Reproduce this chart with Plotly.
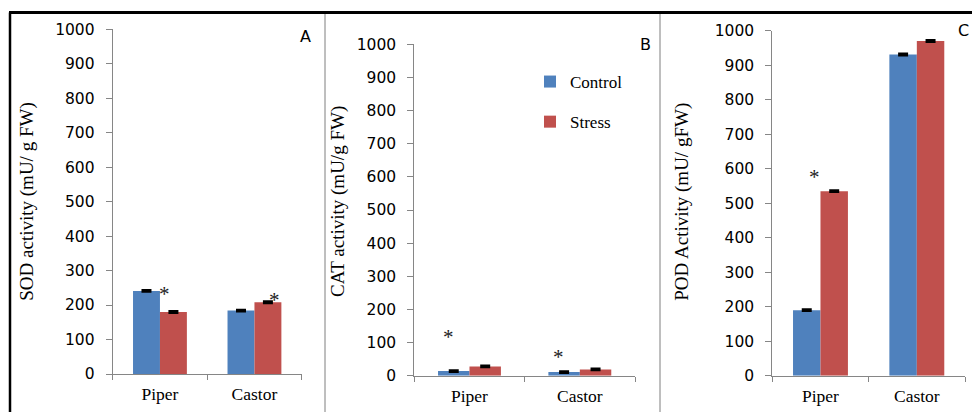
import plotly.graph_objects as go

# ---- data ----
categories = ["Piper", "Castor"]
series_names = ["Control", "Stress"]

sod_control = [241, 184]
sod_stress = [180, 208]
cat_control = [14, 11]
cat_stress = [28, 19]
pod_control = [190, 931]
pod_stress = [535, 970]

sod_err_control = [2, 2]
sod_err_stress = [2, 2]
cat_err_control = [2, 2]
cat_err_stress = [2, 2]
pod_err_control = [2, 2]
pod_err_stress = [2, 2]

y_titles = ["SOD activity (mU/ g FW)", "CAT activity (mU/g FW)", "POD Activity (mU/ gFW)"]
panel_letters = ["A", "B", "C"]
y_ticks = [0, 100, 200, 300, 400, 500, 600, 700, 800, 900, 1000]

# significance marks: (panel index, category, x offset in category units, y value)
asterisks = [
    (0, 0, 0.05, 241), (0, 1, 0.21, 224),
    (1, 0, -0.19, 125), (1, 1, -0.19, 65),
    (2, 0, -0.06, 586), (2, 1, 0.15, 1016),
]

BLUE = "#4F81BD"
RED = "#C0504D"
AXIS = "#868686"
W, H = 972, 412

panels = [
    (sod_control, sod_stress, sod_err_control, sod_err_stress),
    (cat_control, cat_stress, cat_err_control, cat_err_stress),
    (pod_control, pod_stress, pod_err_control, pod_err_stress),
]

# pixel geometry of the three plot areas: (x_left, x_right, y_zero, y_top)
geom = [
    (112.7, 301.7, 374.0, 29.3),
    (414.3, 635.0, 375.7, 44.3),
    (772.3, 965.0, 375.7, 30.7),
]
title_x = [26.7, 338, 681.7]
letter_pos = [(305, 37), (645, 45), (963, 31)]

fig = go.Figure()

for i, (c_vals, s_vals, c_err, s_err) in enumerate(panels):
    suffix = "" if i == 0 else str(i + 1)
    for name, vals, err, col in ((series_names[0], c_vals, c_err, BLUE),
                                 (series_names[1], s_vals, s_err, RED)):
        fig.add_trace(go.Bar(
            x=categories, y=vals, name=name, marker=dict(color=col, line=dict(width=0)),
            error_y=dict(type="data", array=err, visible=True, color="black",
                         thickness=2.5, width=5),
            xaxis="x" + suffix, yaxis="y" + suffix,
            legendgroup=name, showlegend=(i == 1),
        ))
    xl, xr, y0, yt = geom[i]
    fig.layout["xaxis" + suffix] = dict(
        domain=[xl / W, xr / W], anchor="y" + suffix, type="category", automargin=False,
        range=[-0.5, 1.5], showline=True, linecolor=AXIS, linewidth=1,
        ticks="outside", tickson="boundaries", ticklen=5, tickcolor=AXIS,
        showgrid=False, zeroline=False, ticklabelstandoff=4,
        tickfont=dict(family="Liberation Serif", size=17.5, color="black"),
    )
    fig.layout["yaxis" + suffix] = dict(
        domain=[1 - y0 / H, 1 - yt / H], anchor="x" + suffix, automargin=False,
        range=[0, 1000], tickvals=y_ticks, showline=True, linecolor=AXIS, linewidth=1,
        ticks="outside", ticklen=6, tickcolor=AXIS, showgrid=False, zeroline=False,
        ticklabelstandoff=8,
        tickfont=dict(family="DejaVu Sans", size=15.5, color="black"),
    )
    # rotated axis title
    fig.add_annotation(x=title_x[i] / W, y=1 - 202 / H, xref="paper", yref="paper",
                       text=y_titles[i], textangle=-90, showarrow=False,
                       xanchor="center", yanchor="middle",
                       font=dict(family="Liberation Serif", size=19, color="black"))
    lx, ly = letter_pos[i]
    fig.add_annotation(x=lx / W, y=1 - ly / H, xref="paper", yref="paper",
                       text=panel_letters[i], showarrow=False, xanchor="center", yanchor="middle",
                       font=dict(family="DejaVu Sans", size=16, color="black"))

for p, cat, off, yv in asterisks:
    suffix = "" if p == 0 else str(p + 1)
    fig.add_annotation(x=cat + off, y=yv, xref="x" + suffix, yref="y" + suffix,
                       text="*", showarrow=False, xanchor="center", yanchor="middle", yshift=-3,
                       font=dict(family="Liberation Serif", size=21, color="#222222"))

# frame lines
fig.add_shape(type="line", xref="paper", yref="paper", x0=9 / W, x1=1, y0=1 - 12.5 / H, y1=1 - 12.5 / H,
              line=dict(color="black", width=3))
fig.add_shape(type="line", xref="paper", yref="paper", x0=10 / W, x1=10 / W, y0=0, y1=1 - 12.5 / H,
              line=dict(color="black", width=2.5))
for xd in (325, 660):
    fig.add_shape(type="line", xref="paper", yref="paper", x0=xd / W, x1=xd / W, y0=0, y1=1 - 14 / H,
                  line=dict(color="#7f7f7f", width=1))

fig.update_layout(
    width=W, height=H, margin=dict(l=0, r=0, t=0, b=0, autoexpand=False),
    paper_bgcolor="white", plot_bgcolor="white",
    barmode="group", bargap=0.43, bargroupgap=0,
    legend=dict(x=530 / W, y=1 - 64 / H, xanchor="left", yanchor="top",
                traceorder="grouped", tracegroupgap=15, bgcolor="rgba(0,0,0,0)",
                font=dict(family="Liberation Serif", size=17, color="black")),
)

fig.write_html("out.html")
